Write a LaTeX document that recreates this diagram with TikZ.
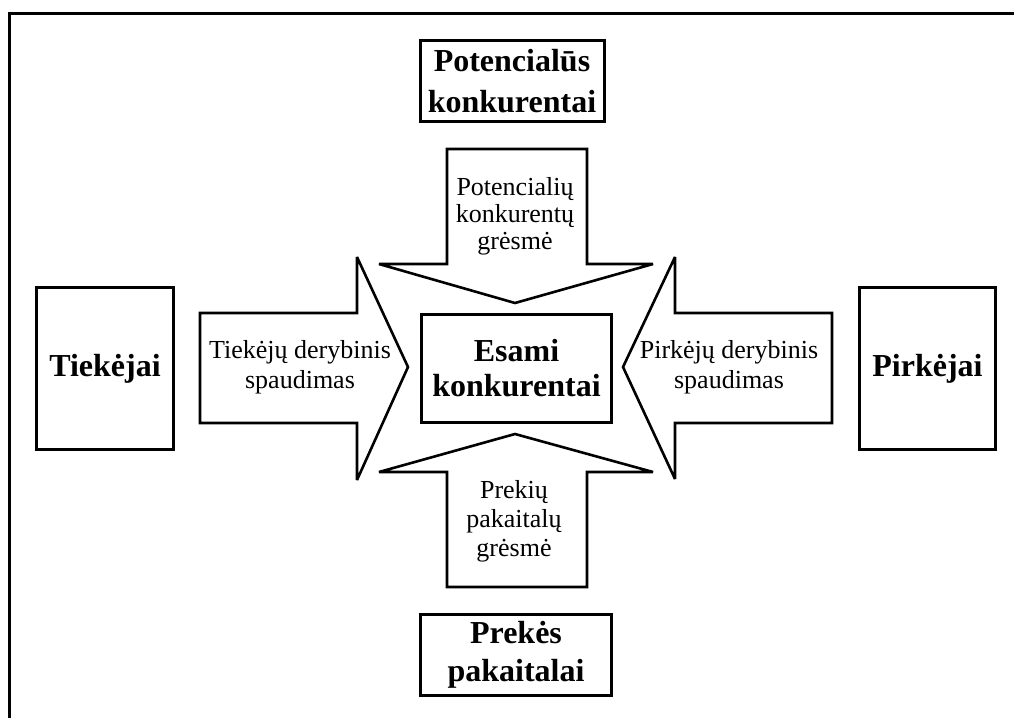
\documentclass[tikz,border=0pt]{standalone}
\usepackage{fontspec}
\setmainfont{Liberation Serif}
\begin{document}
\begin{tikzpicture}[x=1pt,y=-1pt,
  box/.style={draw, line width=3pt, rectangle, inner sep=0pt, align=center,
    font=\bfseries\fontsize{32}{41}\selectfont},
  blockarrow/.style={draw, line width=2.6pt, line join=miter, miter limit=3, fill=white},
  atext/.style={inner sep=0pt, align=center, font=\fontsize{26}{27}\selectfont},
  frameline/.style={line width=3pt}]
\useasboundingbox (0,0) rectangle (1014,718);
% frame (top and left only)
\coordinate (ftr) at (1014,13.5);
\coordinate (ftl) at (8,13.5);
\coordinate (fbl) at (9.5,718);
\draw[frameline] (ftr) -- (ftl);
\draw[frameline] (9.5,12) -- (fbl);

% block arrows
\draw[blockarrow] (447,149) -- (587,149) -- (587,264) -- (653,264) -- (515,303) -- (379,264) -- (447,264) -- cycle;
\draw[blockarrow] (447,587) -- (587,587) -- (587,472) -- (653,472) -- (515,434) -- (379,472) -- (447,472) -- cycle;
\draw[blockarrow] (200,313) -- (357,313) -- (357,257) -- (408,367) -- (357,480) -- (357,423) -- (200,423) -- cycle;
\draw[blockarrow] (832,313) -- (675,313) -- (675,257) -- (623,367) -- (675,479) -- (675,423) -- (832,423) -- cycle;

% boxes
\node[box, minimum width=184pt, minimum height=81pt] (potb) at (512,81) {Potencialūs\\konkurentai};
\node[box, minimum width=190pt, minimum height=108pt, font=\bfseries\fontsize{32}{35}\selectfont] (esami) at (516.5,368.5) {Esami\\konkurentai};
\node[box, minimum width=191pt, minimum height=81pt, font=\bfseries\fontsize{32}{38}\selectfont] (prekb) at (516,655) {Prekės\\pakaitalai};
\node[box, minimum width=137pt, minimum height=162pt] (tiek) at (105,368.5) {Tiekėjai};
\node[box, minimum width=136pt, minimum height=162pt] (pirk) at (927.5,368.5) {Pirkėjai};

% arrow texts
\node[atext] (potg) at (515,216) {Potencialių\\konkurentų\\grėsmė};
\node[atext, font=\fontsize{26}{29}\selectfont] (prekg) at (514,521) {Prekių\\pakaitalų\\grėsmė};
\node[atext, font=\fontsize{26}{30}\selectfont] (tiekd) at (300,367) {Tiekėjų derybinis\\spaudimas};
\node[atext, font=\fontsize{26}{30}\selectfont] (pirkd) at (729,367) {Pirkėjų derybinis\\spaudimas};
\end{tikzpicture}
\end{document}
